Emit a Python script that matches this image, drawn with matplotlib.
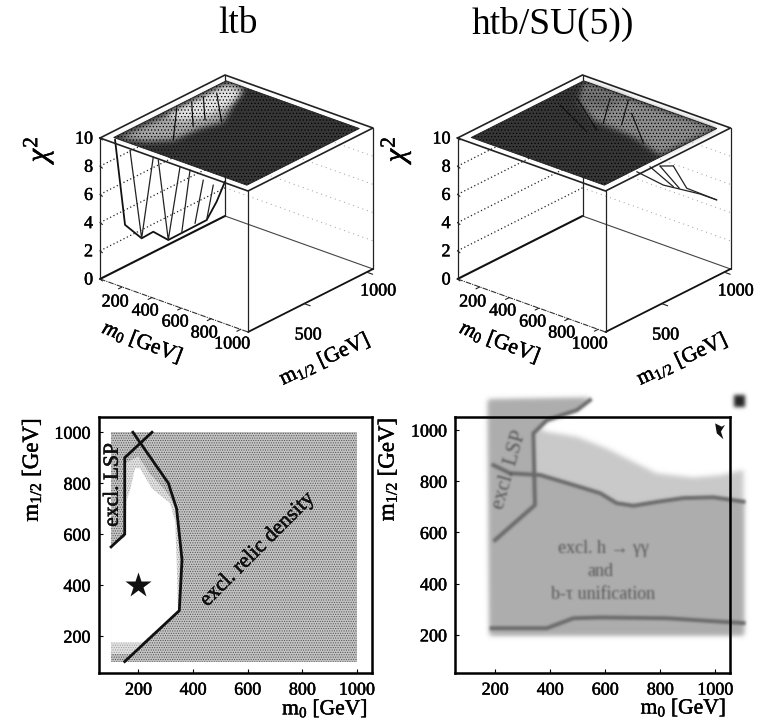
import numpy as np
import matplotlib
matplotlib.use("Agg")
import matplotlib.pyplot as plt
from matplotlib.patches import Polygon
import matplotlib.patheffects as pe

plt.rcParams['font.family'] = ['Liberation Serif', 'DejaVu Serif']
plt.rcParams['mathtext.fontset'] = 'custom'
plt.rcParams['mathtext.rm'] = 'Liberation Serif'
plt.rcParams['mathtext.it'] = 'Liberation Serif:italic'
plt.rcParams['mathtext.bf'] = 'Liberation Serif:bold'
plt.rcParams['hatch.linewidth'] = 0.5

# ---------- data ----------
titles = ["ltb", "htb/SU(5))"]
chi_ticks = [0, 2, 4, 6, 8, 10]
m0_ticks = [200, 400, 600, 800, 1000]
m12_ticks_3d = [500, 1000]
m_ticks = [200, 400, 600, 800, 1000]

# left 3D: chi2 profile along the low-m0 side (m12, chi2)
ltb_outline_m12 = [111, 191, 324, 417, 537, 844, 924, 991]
ltb_outline_chi = [9.8, 3.4, 1.85, 1.9, 0.78, 0.82, 1.77, 2.9]
ltb_teeth = [[(231, 8.5), (324, 1.85), (417, 7.2)],
             [(457, 6.8), (537, 0.78), (631, 5.55)],
             [(644, 0.77), (711, 4.97)],
             [(751, 1.0), (817, 3.78)],
             [(844, 0.82), (897, 3.07)]]
# allowed area seen on the top plane (m0, m12)
ltb_light_outer = [(125, 108), (135, 990), (227, 990), (305, 815), (409, 610),
                   (369, 472), (355, 275), (263, 171)]
ltb_light_inner = [(135, 480), (135, 950), (250, 950), (300, 780), (300, 600), (230, 480)]
ltb_top_lines = [[(120, 581), (355, 275)], [(128, 691), (330, 464)],
                 [(135, 776), (324, 566)], [(160, 853), (403, 605)]]

# right 3D
htb_light = [(120, 980), (998, 1000), (983, 565), (735, 646), (446, 668), (250, 800)]
htb_bright = [(160, 960), (420, 980), (420, 780), (250, 780)]
htb_top_lines = [[(196, 697), (511, 538)], [(210, 815), (537, 587)],
                 [(341, 925), (511, 671)], [(427, 970), (596, 716)],
                 [(544, 858), (826, 619)]]
htb_wing = [[(359, 9.8), (572, 7.9), (865, 5.96), (999, 4.94)],
            [(652, 8.9), (759, 6.84), (999, 4.94)],
            [(465, 9.68), (652, 7.43)],
            [(545, 9.37), (700, 7.1)],
            [(652, 8.9), (545, 9.37)]]

# bottom-left exclusion contours
lsp_m0 = [100, 150, 150, 250]
lsp_m12 = [550, 600, 900, 1000]
relic_m0 = [180, 310, 340, 360, 350, 150]
relic_m12 = [1000, 800, 700, 500, 300, 100]
white_area = [(100, 175), (215, 175), (345, 300), (340, 500), (335, 650), (316, 721),
              (249, 780), (206, 859), (188, 859), (170, 773), (157, 734), (152, 590), (100, 551)]
fringe_area = [(152, 590), (155, 880), (200, 905), (240, 840), (300, 770), (345, 700),
               (352, 500), (345, 300), (215, 175), (100, 175), (100, 551)]
low_fringe = [(100, 130), (190, 130), (215, 175), (100, 175)]
star_m0, star_m12 = [200], [400]

# bottom-right pasted, blurred figure
grey_area = [(176, 1117), (545, 1124), (497, 1078), (388, 1033), (358, 1006), (388, 993),
             (497, 974), (606, 928), (703, 876), (788, 831), (921, 815), (1018, 824),
             (1103, 844), (1103, 200), (182, 200)]
dark_area = [(176, 1117), (545, 1124), (497, 1078), (388, 1039), (339, 987), (345, 824),
             (364, 824), (485, 785), (582, 753), (642, 714), (703, 704), (800, 721),
             (885, 734), (994, 737), (1103, 720), (1103, 200), (182, 200)]
lsp2 = [(200, 570), (345, 707), (339, 987), (388, 1039), (497, 1078), (545, 1117)]
hline = [(194, 863), (255, 831), (364, 824), (485, 785), (582, 753), (642, 714),
         (703, 704), (800, 721), (885, 734), (994, 737), (1103, 720)]
lowline = [(188, 226), (388, 226), (485, 265), (582, 268), (824, 265), (1103, 246)]
star_piece = [(1000, 1026), (1024, 1013), (1036, 1020), (1021, 994), (1030, 964), (1006, 987)]
dark_blob = [(1067, 1137), (1110, 1137), (1110, 1091), (1067, 1091)]

# ---------- helpers ----------
def blur_filter(sigma):
    def _f(img, dpi):
        pad = int(3 * sigma) + 1
        x = np.arange(-pad, pad + 1)
        k = np.exp(-x**2 / (2.0 * sigma**2)); k /= k.sum()
        out = np.pad(img, ((pad, pad), (pad, pad), (0, 0)), mode='constant')
        a = out[..., 3:4]
        out = np.concatenate([out[..., :3] * a, a], axis=2)
        for axis in (0, 1):
            out = np.apply_along_axis(lambda v: np.convolve(v, k, mode='same'), axis, out)
        alpha = out[..., 3:4]
        rgb = np.where(alpha > 1e-4, out[..., :3] / np.maximum(alpha, 1e-4), 1.0)
        res = np.clip(np.concatenate([rgb, alpha], axis=2), 0, 1)
        return res, -pad, -pad
    return _f

firm = [pe.withStroke(linewidth=0.35, foreground='black')]

fig = plt.figure(figsize=(7.66, 7.27), dpi=100, facecolor='white')
ov = fig.add_axes([0, 0, 1, 1])
ov.set_xlim(0, 766); ov.set_ylim(727, 0); ov.axis('off')

def P(m0, m12, chi, ox):
    return (ox + 100 + (m0 - 50) * 0.148 + (m12 - 50) * 0.125,
            279 + (m0 - 50) * 0.053 - (m12 - 50) * 0.063 - chi * 14.1)

def line3d(pts, ox, **kw):
    xs, ys = zip(*[P(a, b, c, ox) for a, b, c in pts])
    ov.plot(xs, ys, solid_capstyle='round', **kw)

def top_poly(pts, ox, **kw):
    p = Polygon([P(a, b, 10, ox) for a, b in pts], closed=True, **kw)
    ov.add_patch(p)
    return p

def box3d(ox):
    lo, hi = 50, 1050
    for c in chi_ticks[1:-1]:
        line3d([(lo, lo, c), (lo, hi, c)], ox, color='#222222', lw=0.9, ls=(0, (1, 2)), zorder=1)
        line3d([(lo, hi, c), (hi, hi, c)], ox, color='#999999', lw=0.7, ls=(0, (1, 4)), zorder=1)
    line3d([(lo, lo, 0), (lo, hi, 0)], ox, color='#111111', lw=1.5, zorder=2)
    line3d([(lo, hi, 0), (hi, hi, 0)], ox, color='#444444', lw=0.8, zorder=2)
    line3d([(hi, lo, 0), (hi, hi, 0)], ox, color='#111111', lw=1.3, zorder=2)
    line3d([(lo, lo, 0), (hi, lo, 0)], ox, color='#333333', lw=0.8, ls=(0, (5, 1, 1, 1)), zorder=2)
    for a, b in [(lo, lo), (hi, lo), (hi, hi), (lo, hi)]:
        line3d([(a, b, 0), (a, b, 10)], ox, color='#222222', lw=0.9, zorder=2)
    for t in m0_ticks:
        line3d([(t, lo, 0), (t, lo - 30, 0)], ox, color='#222222', lw=0.8, zorder=2)
    for t in m12_ticks_3d:
        line3d([(hi, t, 0), (hi + 40, t, 0)], ox, color='#222222', lw=0.8, zorder=2)
    for c in chi_ticks:
        line3d([(lo, lo, c), (lo + 25, lo - 10, c)], ox, color='#222222', lw=0.8, zorder=6)
        x, y = P(lo, lo, c, ox)
        ov.text(x - 7, y + 1, str(c), ha='right', va='center', fontsize=13, path_effects=firm)

def top_frame(ox):
    lo, hi = 50, 1050
    corners = [(lo, lo), (hi, lo), (hi, hi), (lo, hi), (lo, lo)]
    xs, ys = zip(*[P(a, b, 10, ox) for a, b in corners])
    ov.plot(xs, ys, color='#222222', lw=1.2, zorder=7)

def surface(ox, base='#363636'):
    square = [(100, 100), (1000, 100), (1000, 1000), (100, 1000)]
    top_poly(square, ox, facecolor=base, edgecolor='none', lw=0, zorder=4)

def surface_overlay(ox):
    square = [(100, 100), (1000, 100), (1000, 1000), (100, 1000)]
    top_poly(square, ox, facecolor='none', edgecolor='#000000', hatch='.....', lw=0, zorder=5.5)
    top_poly(square, ox, facecolor='none', edgecolor='#202020', lw=0.6, zorder=5.6)

def labels3d(ox):
    for t, (x, y) in zip(m0_ticks, [(115, 302), (145, 311), (175, 322), (204, 333), (232, 344)]):
        ov.text(x + ox, y, str(t), ha='center', va='center', fontsize=13, path_effects=firm)
    for t, (x, y) in zip(m12_ticks_3d, [(308, 335), (378, 291)]):
        ov.text(x + ox, y, str(t), ha='center', va='center', fontsize=13, path_effects=firm)
    ov.text(142 + ox, 343, r"$m_{0}$ [GeV]", rotation=-21, ha='center', va='center',
            fontsize=15.5, rotation_mode='anchor', path_effects=firm)
    ov.text(325 + ox, 360, r"$\mathrm{m}_{1/2}$ [GeV]", rotation=25, ha='center', va='center',
            fontsize=15.5, rotation_mode='anchor', path_effects=firm)
    ov.text(38 + ox, 148, r"$\chi^2$", rotation=90, ha='center', va='center', fontsize=22,
            path_effects=firm)

# ---------- titles ----------
ov.text(238, 24, titles[0], ha='center', va='center', fontsize=27)
ov.text(553, 24, titles[1], ha='center', va='center', fontsize=27)

# ---------- left 3D ----------
ox = 0
box3d(ox); surface(ox)
top_poly(ltb_light_outer, ox, facecolor='#a8a8a8', edgecolor='none', lw=0, zorder=4.5,
         agg_filter=blur_filter(3))
top_poly(ltb_light_inner, ox, facecolor='#e4e4e4', edgecolor='none', lw=0, zorder=4.6,
         agg_filter=blur_filter(3))
surface_overlay(ox)
line3d([(100, a, b) for a, b in zip(ltb_outline_m12, ltb_outline_chi)], ox, color='#111111', lw=1.3, zorder=3)
for tooth in ltb_teeth:
    line3d([(100, a, b) for a, b in tooth], ox, color='#222222', lw=0.9, zorder=3)
for seg in ltb_top_lines:
    line3d([(a, b, 10) for a, b in seg], ox, color='#111111', lw=0.9, zorder=6)
top_frame(ox); labels3d(ox)

# ---------- right 3D ----------
ox = 357.5
box3d(ox); surface(ox)
top_poly(htb_light, ox, facecolor='#8e8e8e', edgecolor='none', lw=0, zorder=4.5,
         agg_filter=blur_filter(3))
top_poly(htb_bright, ox, facecolor='#707070', edgecolor='none', lw=0, zorder=4.6,
         agg_filter=blur_filter(4))
surface_overlay(ox)
for seg in htb_top_lines:
    line3d([(a, b, 10) for a, b in seg], ox, color='#111111', lw=0.8, zorder=6)
for seg in htb_wing:
    line3d([(1000, a, b) for a, b in seg], ox, color='#222222', lw=0.9, zorder=6)
top_frame(ox); labels3d(ox)

# ---------- bottom axes ----------
def bottom_axes(x0, x1, y0, y1, xlim, ylim):
    ax = fig.add_axes([x0 / 766, 1 - y1 / 727, (x1 - x0) / 766, (y1 - y0) / 727])
    ax.set_xlim(*xlim); ax.set_ylim(*ylim)
    ax.set_xticks(m_ticks); ax.set_yticks(m_ticks)
    ax.tick_params(direction='in', length=3, width=0.8, top=False, right=False,
                   labelsize=13, pad=6)
    for lab in ax.get_xticklabels() + ax.get_yticklabels():
        lab.set_path_effects(firm)
    for s in ax.spines.values():
        s.set_linewidth(1.8); s.set_zorder(20)
    ax.patch.set_alpha(0)
    return ax

# bottom-left
ax1 = bottom_axes(98.5, 371.5, 416.7, 673.3, (54, 1054), (54, 1061))
ax1.add_patch(Polygon([(100, 100), (1000, 100), (1000, 1000), (100, 1000)], facecolor='#c4c4c4',
                      edgecolor='#505050', hatch='.......', lw=0, zorder=1))
ax1.add_patch(Polygon(fringe_area, facecolor='#e2e2e2', edgecolor='#999999', hatch='.......', lw=0, zorder=2))
ax1.add_patch(Polygon(low_fringe, facecolor='#e2e2e2', edgecolor='#999999', hatch='.......', lw=0, zorder=2))
ax1.add_patch(Polygon(white_area, facecolor='white', edgecolor='none', lw=0, zorder=3))
ax1.plot(lsp_m0, lsp_m12, color='#111111', lw=2, zorder=5, solid_joinstyle='miter')
ax1.plot(relic_m0, relic_m12, color='#111111', lw=2, zorder=5, solid_joinstyle='miter')
ax1.plot(star_m0, star_m12, marker='*', ms=19, color='#111111', mec='none', zorder=6, ls='none')
ax1.text(638, 538, "excl. relic density", rotation=45, ha='center', va='center', fontsize=15.5,
         rotation_mode='anchor', color='#111111', zorder=7, path_effects=firm)
ax1.text(108, 793, "excl. LSP", rotation=90, ha='center', va='center', fontsize=15.5,
         rotation_mode='anchor', color='#111111', zorder=7, path_effects=firm)
ax1.text(1040, -88, r"$\mathrm{m}_{0}$ [GeV]", ha='right', va='center', fontsize=15.5, path_effects=firm)
ax1.text(-190, 852, r"$\mathrm{m}_{1/2}$ [GeV]", rotation=90, ha='center', va='center', fontsize=16.5, path_effects=firm)

# bottom-right
ax2 = bottom_axes(455, 730, 416.7, 673.3, (54.5, 1054), (50, 1052))
B = blur_filter(2.5)
ax2.add_patch(Polygon(grey_area, facecolor='#c9c9c9', edgecolor='none', lw=0, zorder=1, clip_on=False, agg_filter=B))
ax2.add_patch(Polygon(dark_area, facecolor='#adadad', edgecolor='none', lw=0, zorder=1.5, clip_on=False, agg_filter=B))
ax2.add_patch(Polygon(dark_blob, facecolor='#222222', edgecolor='none', lw=0, zorder=1.5, clip_on=False, agg_filter=blur_filter(2)))
for pts in (lsp2, hline, lowline):
    xs, ys = zip(*pts)
    ax2.plot(xs, ys, color='#6a6a6a', lw=2.8, zorder=2, clip_on=False, agg_filter=blur_filter(1.2))
ax2.add_patch(Polygon(star_piece, facecolor='#111111', edgecolor='none', lw=0, zorder=6))
blurt = blur_filter(1.0)
ax2.text(594, 538, "excl. h \u2192 \u03b3\u03b3", ha='center', va='center', fontsize=13, color='#555555', zorder=3, agg_filter=blurt)
ax2.text(582, 447, "and", ha='center', va='center', fontsize=13, color='#555555', zorder=3, agg_filter=blurt)
ax2.text(594, 356, "b-\u03c4 unification", ha='center', va='center', fontsize=13, color='#555555', zorder=3, agg_filter=blurt)
ax2.text(255, 844, "excl. LSP", rotation=74, ha='center', va='center', fontsize=15, color='#555555',
         rotation_mode='anchor', zorder=3, agg_filter=blurt)
ax2.text(1040, -88, r"$\mathrm{m}_{0}$ [GeV]", ha='right', va='center', fontsize=15.5, path_effects=firm)
ax2.text(-190, 846, r"$\mathrm{m}_{1/2}$ [GeV]", rotation=90, ha='center', va='center', fontsize=16.5, path_effects=firm)

fig.savefig('out.png', dpi=100)
